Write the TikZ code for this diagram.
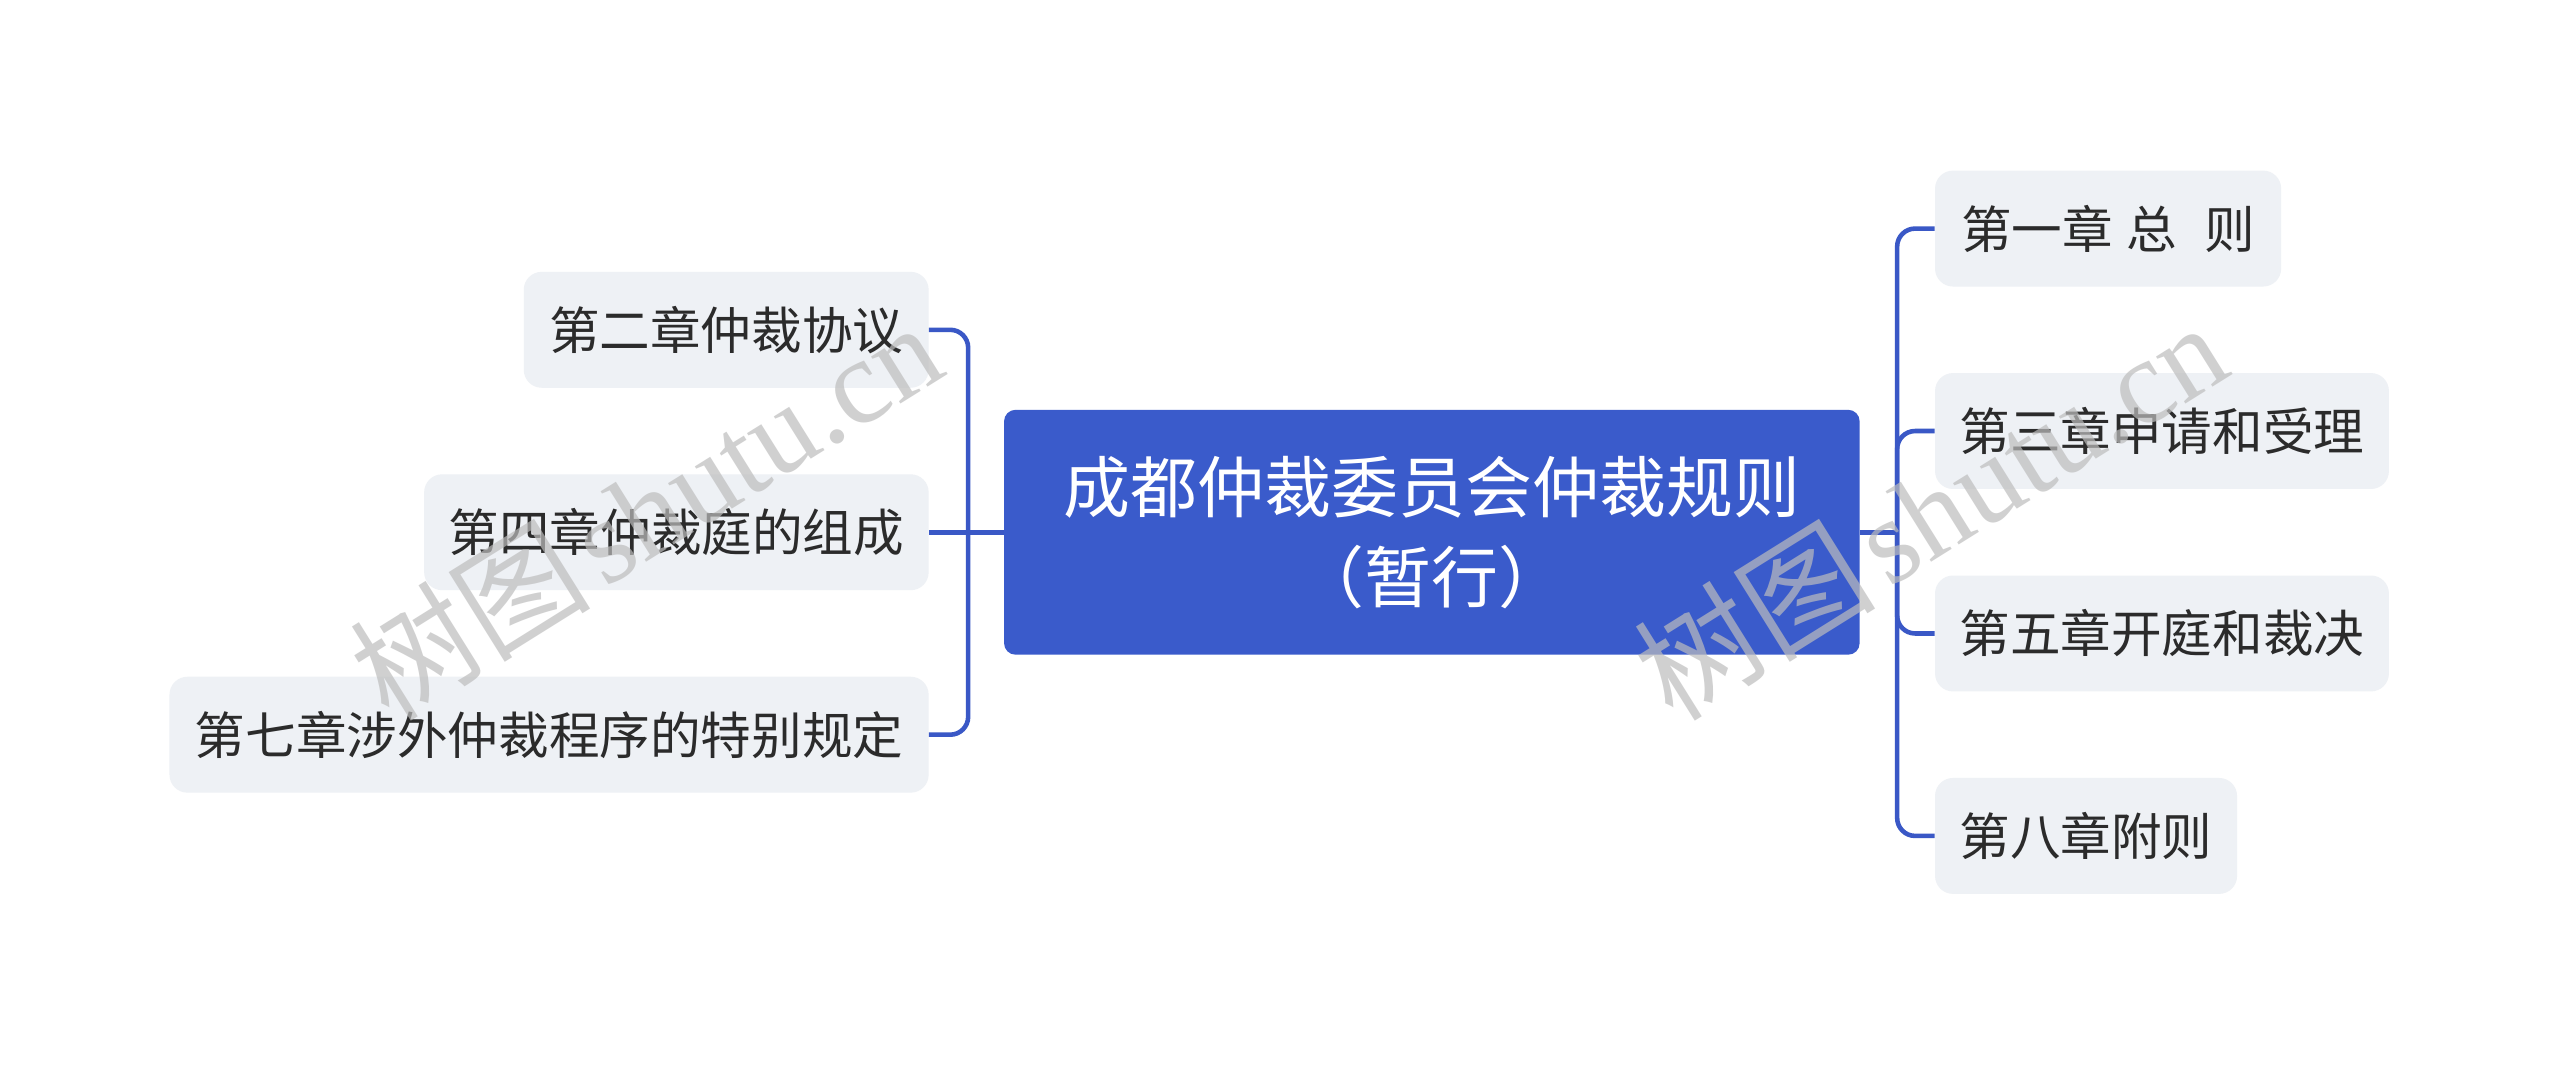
\documentclass[tikz,border=0pt]{standalone}
\usepackage{fontspec}
\setmainfont{Noto Sans CJK SC}
\newfontfamily\cjk{Noto Sans CJK SC}
\newfontfamily\wmlatin{Liberation Serif}
\definecolor{rootblue}{HTML}{3A5BCB}
\definecolor{linkblue}{HTML}{3A58C6}
\definecolor{leafgray}{HTML}{EEF1F5}
\definecolor{txtdark}{HTML}{2B2B2B}
\definecolor{wmgray}{HTML}{BDBDBD}
\begin{document}
\begin{tikzpicture}[x=1pt,y=-1pt]
\tikzset{
  rootbox/.style={fill=rootblue, rounded corners=7pt, minimum width=524pt, minimum height=150pt,
    text=white, font=\fontsize{41}{55}\selectfont, align=center, inner sep=0pt},
  leafbox/.style={fill=leafgray, rounded corners=11pt, minimum height=71pt, inner xsep=15pt,
    inner ysep=0pt, text=txtdark, font=\fontsize{31}{37}\selectfont},
  conn/.style={draw=linkblue, line width=2.8pt, rounded corners=11pt},
  wmark/.style={text=wmgray, opacity=0.7, font=\fontsize{74}{74}\selectfont, rotate=32, inner sep=0pt}
}
\useasboundingbox (0,0) rectangle (1568,653);
\fill[white] (0,0) rectangle (1568,653);

% root
\node[rootbox] (root) at (877,326) {成都仲裁委员会仲裁规则\\（暂行）};

% right leaves
\node[leafbox, anchor=west, minimum width=212pt] (r1) at (1185,140) {第一章\hspace{8pt}总\hspace{17pt}则};
\node[leafbox, anchor=west, minimum width=278pt] (r2) at (1185,264) {第三章申请和受理};
\node[leafbox, anchor=west, minimum width=278pt] (r3) at (1185,388) {第五章开庭和裁决};
\node[leafbox, anchor=west, minimum width=184pt] (r4) at (1185,512) {第八章附则};

% left leaves
\node[leafbox, anchor=east, minimum width=248pt] (l1) at (569,202) {第二章仲裁协议};
\node[leafbox, anchor=east, minimum width=309pt] (l2) at (569,326) {第四章仲裁庭的组成};
\node[leafbox, anchor=east, minimum width=465pt] (l3) at (569,450) {第七章涉外仲裁程序的特别规定};

% connectors
\coordinate (lb) at (593,326);
\coordinate (rb) at (1162,326);
\draw[conn] (root.west) -- (l2.east);
\draw[conn] (lb) |- (l1.east);
\draw[conn] (lb) |- (l3.east);
\draw[conn] (root.east) -- (rb);
\draw[conn] (rb) |- (r1.west);
\draw[conn] (rb) |- (r2.west);
\draw[conn] (rb) |- (r3.west);
\draw[conn] (rb) |- (r4.west);

% watermarks
\node[wmark] (wm1) at (395,312) {树图\hspace{8pt}{\wmlatin shutu.cn}};
\node[wmark] (wm2) at (1182,312) {树图\hspace{8pt}{\wmlatin shutu.cn}};
\end{tikzpicture}
\end{document}
